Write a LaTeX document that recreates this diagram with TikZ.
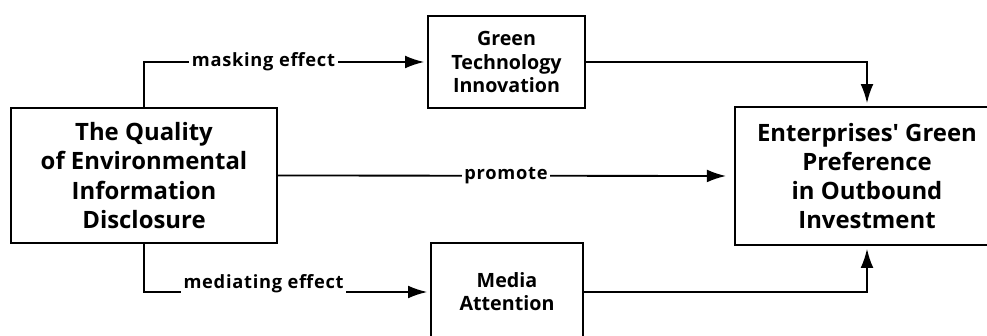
\documentclass[tikz,border=0pt]{standalone}
\usepackage{fontspec}
\setmainfont{Open Sans}
\usepackage{tikz}
\usetikzlibrary{arrows.meta,positioning,calc}

\begin{document}
\begin{tikzpicture}[
>={Latex[length=4.8mm,width=3.2mm]}, line width=1.3pt,
big-box/.style = {rectangle,draw=black,align=center,font=\fontsize{17}{20.8}\selectfont\bfseries},
mid-box/.style = {rectangle,draw=black,align=center,font=\fontsize{14}{16.4}\selectfont\bfseries},
edge-label/.style = {fill=white,inner xsep=2pt,inner ysep=1.5pt,font=\fontsize{13}{15}\selectfont\bfseries\addfontfeature{LetterSpace=4}}
]

\useasboundingbox (0,0) rectangle (24.675,8.4);
\clip (0,0) rectangle (24.675,8.4);

\node [big-box, minimum width=6.65cm, minimum height=3.375cm] (quality) at (3.6, 4.0125)
  {The Quality\\of Environmental\\Information\\Disclosure};
\node [mid-box, minimum width=3.925cm, minimum height=2.3cm] (tech) at (12.6625, 6.85)
  {Green\\Technology\\Innovation};
\node [mid-box, minimum width=3.8cm, minimum height=2.45cm] (media) at (12.675, 1.1)
  {Media\\Attention};
\node [big-box, minimum width=6.6cm, minimum height=3.45cm] (pref) at (21.675, 4.0)
  {Enterprises\textquotesingle{} Green\\Preference\\in Outbound\\Investment};


% arrows
\draw[->, shorten >=2pt] (quality.north) |- node[edge-label, pos=0.711]{masking effect} (tech.west);
\draw[->, shorten >=0.2cm] (quality.east) -- node[edge-label, midway]{promote} (pref.west);
\draw[->, shorten >=2pt] (quality.south) |- node[edge-label, pos=0.709, anchor=base, yshift=0.08cm]{mediating effect} (media.west);

\draw[->, shorten >=2pt] (tech.east) -| (pref.north);
\draw[->, shorten >=2pt] (media.east) -| (pref.south);

\end{tikzpicture}
\end{document}
